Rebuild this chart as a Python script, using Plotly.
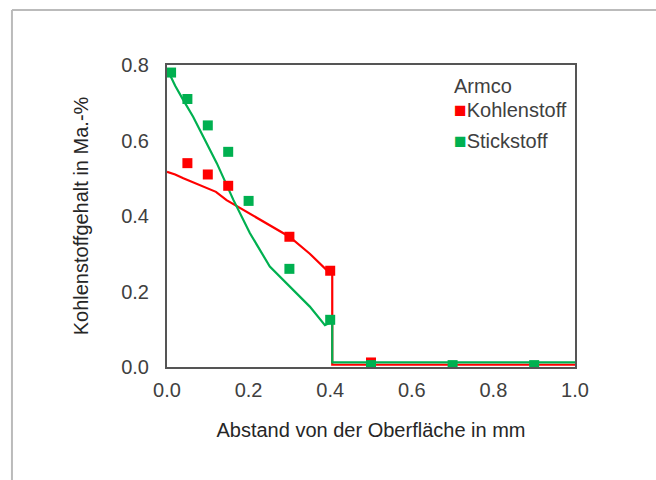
import plotly.graph_objects as go

# Measured points
c_x = [0.05, 0.10, 0.15, 0.30, 0.40, 0.50]
c_y = [0.54, 0.51, 0.48, 0.345, 0.255, 0.012]
n_x = [0.01, 0.05, 0.10, 0.15, 0.20, 0.30, 0.40, 0.50, 0.70, 0.90]
n_y = [0.78, 0.71, 0.64, 0.57, 0.44, 0.26, 0.125, 0.005, 0.005, 0.005]

# Simulated profiles
cl_x = [0.0, 0.02, 0.04, 0.08, 0.12, 0.146, 0.2, 0.25, 0.3, 0.35, 0.39, 0.405, 0.405, 1.0]
cl_y = [0.517, 0.51, 0.50, 0.482, 0.464, 0.442, 0.408, 0.376, 0.345, 0.30, 0.258, 0.25, 0.006, 0.006]
nl_x = [0.0, 0.007, 0.02, 0.04, 0.064, 0.089, 0.122, 0.163, 0.203, 0.252, 0.301, 0.35, 0.387, 0.405, 0.405, 1.0]
nl_y = [0.79, 0.773, 0.745, 0.707, 0.663, 0.61, 0.54, 0.442, 0.355, 0.266, 0.213, 0.16, 0.111, 0.12, 0.012, 0.012]

legend_title = "Armco"
series_names = ["Kohlenstoff", "Stickstoff"]

RED = "#ff0000"
GREEN = "#00b050"
FONT = "Liberation Sans, Arial, sans-serif"
TXT = "#404040"
FS = 20

fig = go.Figure()
fig.add_trace(go.Scatter(x=cl_x, y=cl_y, mode="lines", line=dict(color=RED, width=2.2),
                         showlegend=False, hoverinfo="skip"))
fig.add_trace(go.Scatter(x=nl_x, y=nl_y, mode="lines", line=dict(color=GREEN, width=2.2),
                         showlegend=False, hoverinfo="skip"))
fig.add_trace(go.Scatter(x=c_x, y=c_y, mode="markers", name=series_names[0],
                         marker=dict(symbol="square", size=10, color=RED)))
fig.add_trace(go.Scatter(x=n_x, y=n_y, mode="markers", name=series_names[1],
                         marker=dict(symbol="square", size=10, color=GREEN)))

axis_common = dict(showgrid=False, zeroline=False, showline=True, linecolor="#555555",
                   linewidth=2, mirror=True, ticks="", tickformat=".1f",
                   tickfont=dict(size=FS, color=TXT, family=FONT))

fig.update_xaxes(range=[0, 1.0], dtick=0.2, ticklabelstandoff=4,
                 title=dict(text="Abstand von der Oberfläche in mm",
                            font=dict(size=FS, color="#262626", family=FONT), standoff=23),
                 **axis_common)
fig.update_yaxes(range=[0, 0.8], dtick=0.2, ticklabelstandoff=12,
                 title=dict(text="Kohlenstoffgehalt in Ma.-%",
                            font=dict(size=FS, color="#262626", family=FONT), standoff=27),
                 **axis_common)

annotations = [
    dict(text=legend_title, xref="paper", yref="paper", x=0.699, y=0.932,
         xanchor="left", yanchor="middle", showarrow=False,
         font=dict(size=FS, color=TXT, family=FONT)),
]
for i, (nm, col) in enumerate(zip(series_names, [RED, GREEN])):
    ypix = [109, 140][i]
    annotations.append(dict(
        text=f"<span style='color:{col};font-size:21px'>■</span>{nm}",
        xref="paper", yref="paper", x=0.699, y=(367 - ypix) / 302,
        xanchor="left", yanchor="middle", showarrow=False,
        font=dict(size=FS, color=TXT, family=FONT)))

fig.update_layout(
    width=656, height=480,
    margin=dict(l=167, r=81, t=65, b=113),
    paper_bgcolor="white", plot_bgcolor="white",
    font=dict(family=FONT, color=TXT),
    showlegend=False,
    annotations=annotations,
    shapes=[
        dict(type="line", xref="paper", yref="paper", x0=-0.38, x1=1.25, y0=1.182, y1=1.182,
             line=dict(color="#bbbbbb", width=2)),
        dict(type="line", xref="paper", yref="paper", x0=-0.38, x1=-0.38, y0=1.182, y1=-0.4,
             line=dict(color="#bbbbbb", width=2)),
    ],
)

fig.write_html("out.html")
